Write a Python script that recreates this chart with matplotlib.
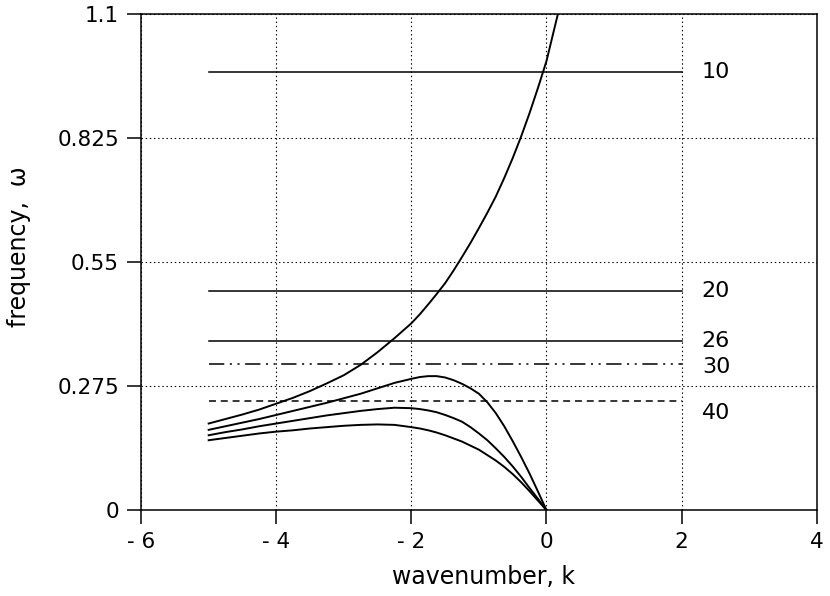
import matplotlib
matplotlib.use("Agg")
import matplotlib.pyplot as plt

# ---------------- data ----------------
k_curve = [-5.0, -4.75, -4.5, -4.25, -4.0, -3.75, -3.5, -3.25, -3.0, -2.75, -2.5, -2.25,
           -2.0, -1.875, -1.75, -1.625, -1.5, -1.375, -1.25, -1.125, -1.0, -0.875,
           -0.75, -0.625, -0.5, -0.375, -0.25, -0.125, 0.0]

# rising (exponential-like) branch
k_rise = k_curve + [0.17]
w_rise = [0.192, 0.202, 0.212, 0.223, 0.236, 0.249, 0.264, 0.281, 0.299, 0.322, 0.350, 0.381,
          0.414, 0.434, 0.456, 0.479, 0.503, 0.531, 0.561, 0.592, 0.625, 0.659,
          0.695, 0.736, 0.780, 0.828, 0.880, 0.936, 0.995, 1.10]

# three humped branches (top, middle, bottom)
w_hump1 = [0.178, 0.186, 0.194, 0.202, 0.211, 0.220, 0.229, 0.238, 0.248, 0.258, 0.270, 0.282,
           0.291, 0.295, 0.297, 0.297, 0.294, 0.288, 0.280, 0.270, 0.258, 0.239,
           0.215, 0.186, 0.153, 0.118, 0.081, 0.041, 0.0]
w_hump2 = [0.166, 0.173, 0.179, 0.186, 0.192, 0.198, 0.204, 0.210, 0.215, 0.220, 0.224, 0.227,
           0.226, 0.224, 0.221, 0.217, 0.211, 0.204, 0.196, 0.184, 0.170, 0.155,
           0.137, 0.118, 0.097, 0.074, 0.049, 0.025, 0.0]
w_hump3 = [0.155, 0.160, 0.165, 0.170, 0.174, 0.177, 0.181, 0.184, 0.187, 0.189, 0.190, 0.189,
           0.184, 0.181, 0.177, 0.172, 0.166, 0.159, 0.152, 0.143, 0.134, 0.122,
           0.110, 0.096, 0.080, 0.062, 0.042, 0.021, 0.0]

# horizontal reference lines
line_labels = ["10", "20", "26", "30", "40"]
line_values = [0.970, 0.485, 0.375, 0.323, 0.243]
line_k_start = -5.0
line_k_end = 2.0

x_ticks = [-6, -4, -2, 0, 2, 4]
x_ticklabels = ["- 6", "- 4", "- 2", "0", "2", "4"]
y_ticks = [0, 0.275, 0.55, 0.825, 1.1]
y_ticklabels = ["0", "0.275", "0.55", "0.825", "1.1"]

# ---------------- styling ----------------
plt.rcParams['font.family'] = ['DejaVu Sans']
plt.rcParams['lines.scale_dashes'] = False

fig = plt.figure(figsize=(8.30, 5.96), dpi=100)
ax = fig.add_axes([0.170, 0.144, 0.814, 0.833])

ax.set_xlim(-6, 4)
ax.set_ylim(0, 1.1)

styles = {
    "10": dict(ls="-"),
    "20": dict(ls="-"),
    "26": dict(ls="-"),
    "30": dict(ls=(0, (11, 4, 1.5, 4, 1.5, 4))),
    "40": dict(ls=(0, (5, 3.5))),
}
label_offsets = {"10": 0.0, "20": 0.0, "26": 0.0, "30": -0.005, "40": -0.027}

for lab, val in zip(line_labels, line_values):
    ax.plot([line_k_start, line_k_end], [val, val], color="black", lw=1.1,
            **styles[lab], zorder=3)
    ax.text(line_k_end + 0.3, val + label_offsets[lab], lab, fontsize=16,
            ha="left", va="center", color="black")

ax.plot(k_rise, w_rise, color="black", lw=1.4, zorder=3)
for w in (w_hump1, w_hump2, w_hump3):
    ax.plot(k_curve, w, color="black", lw=1.4, zorder=3)

ax.set_xticks(x_ticks)
ax.set_xticklabels(x_ticklabels)
ax.set_yticks(y_ticks)
ax.set_yticklabels(y_ticklabels)
ax.tick_params(axis="both", direction="out", length=10, width=1.1, pad=6,
               labelsize=15.5, colors="black")

ax.grid(True, color="black", ls=(0, (1, 2)), lw=0.8)
ax.set_axisbelow(True)
for sp in ax.spines.values():
    sp.set_linewidth(1.1)
    sp.set_color("black")

ax.set_xlabel("wavenumber, k", fontsize=17)
ax.set_ylabel("frequency,  ω", fontsize=17)
ax.xaxis.set_label_coords(0.507, -0.11)
ax.yaxis.set_label_coords(-0.163, 0.53)

fig.savefig("out.png", dpi=100, facecolor="white")
